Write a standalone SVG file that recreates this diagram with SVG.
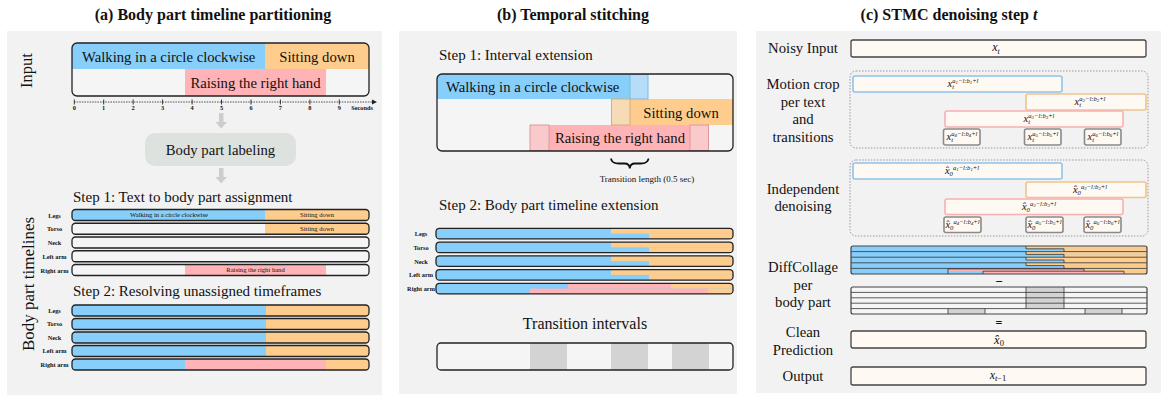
<svg xmlns="http://www.w3.org/2000/svg" width="1171" height="400" viewBox="0 0 1171 400">
<style>
  text { font-family: "Liberation Serif", "Times New Roman", serif; fill: #111; }
  .title { font-size: 16px; font-weight: bold; text-anchor: middle; }
  .lbl { font-size: 14.7px; }
  .lblc { font-size: 14.7px; text-anchor: middle; }
  .step { font-size: 15px; }
  .tiny { font-size: 6.3px; font-weight: bold; text-anchor: middle; }
  .inbar { font-size: 6.6px; text-anchor: middle; }
  .ax { font-size: 6.3px; font-weight: bold; text-anchor: middle; }
  .m { font-size: 10.5px; font-style: italic; text-anchor: middle; }
  .sp { font-size: 6.6px; }
  .ss { font-size: 4.8px; }
  .panel { fill: #f2f2f2; }
  .blue { fill: #87cefa; }
  .orange { fill: #fecd8e; }
  .pink { fill: #ffb3b6; }
  .empty { fill: #f5f5f5; }
  .outline { fill: none; stroke: #222; stroke-width: 1.3; }
  .cream { fill: #fef9f2; }
  .cbox { fill: #fef9f2; stroke: #444; stroke-width: 1.3; }
  .dotted { fill: none; stroke: #9a9a9a; stroke-width: 1; stroke-dasharray: 1.5 1.5; }
  .thin { stroke: #333; stroke-width: 0.8; fill: none; }
  .tgray { fill: #d3d3d3; }
  .arr { fill: #cdcdcd; }
</style>
<defs>
  <clipPath id="cb" clipPathUnits="objectBoundingBox"><rect x="0" y="0" width="1" height="1" rx="0.012" ry="0.28"/></clipPath>
  <clipPath id="cin" clipPathUnits="objectBoundingBox"><rect x="0" y="0" width="1" height="1" rx="0.017" ry="0.094"/></clipPath>
  <clipPath id="cbx" clipPathUnits="objectBoundingBox"><rect x="0" y="0" width="1" height="1" rx="0.017" ry="0.065"/></clipPath>
  <clipPath id="cdc" clipPathUnits="objectBoundingBox"><rect x="0" y="0" width="1" height="1" rx="0.007" ry="0.07"/></clipPath>
</defs>

<!-- ===== Panel backgrounds ===== -->
<rect class="panel" x="7" y="31" width="375" height="364"/>
<rect class="panel" x="399" y="31" width="338" height="363"/>
<rect class="panel" x="756" y="31" width="405" height="362"/>

<!-- ===== Titles ===== -->
<text class="title" x="213" y="20">(a) Body part timeline partitioning</text>
<text class="title" x="573" y="20">(b) Temporal stitching</text>
<text class="title" x="949" y="20">(c) STMC denoising step <tspan font-style="italic">t</tspan></text>

<!-- ===================== PANEL A ===================== -->
<text text-anchor="middle" transform="translate(32,70.5) rotate(-90)" style="font-size:16.5px">Input</text>
<text text-anchor="middle" transform="translate(34,284) rotate(-90)" style="font-size:17px">Body part  timelines</text>

<g id="a-input">
  <g clip-path="url(#cin)">
    <rect class="empty" x="72" y="43" width="297" height="53"/>
    <rect class="blue" x="72" y="43" width="193" height="26"/>
    <rect class="orange" x="265" y="43" width="104" height="26"/>
    <rect class="pink" x="185" y="69" width="141" height="27"/>
  </g>
  <rect class="outline" x="72" y="43" width="297" height="53" rx="5"/>
  <text class="lbl" x="82" y="62">Walking in a circle clockwise</text>
  <text class="lblc" x="317" y="62">Sitting down</text>
  <text class="lblc" x="255.5" y="88">Raising the right hand</text>
</g>

<g id="a-axis">
  <line x1="74" y1="102" x2="372" y2="102" stroke="#333" stroke-width="0.8" stroke-dasharray="1.6 1"/>
  <polygon points="372,99.6 377,102 372,104.4" fill="#222"/>
  <g stroke="#222" stroke-width="0.9">
    <line x1="74.3" y1="99.5" x2="74.3" y2="104.5"/>
    <line x1="103.7" y1="99.5" x2="103.7" y2="104.5"/>
    <line x1="133.2" y1="99.5" x2="133.2" y2="104.5"/>
    <line x1="162.6" y1="99.5" x2="162.6" y2="104.5"/>
    <line x1="192.1" y1="99.5" x2="192.1" y2="104.5"/>
    <line x1="221.5" y1="99.5" x2="221.5" y2="104.5"/>
    <line x1="251" y1="99.5" x2="251" y2="104.5"/>
    <line x1="280.4" y1="99.5" x2="280.4" y2="104.5"/>
    <line x1="309.9" y1="99.5" x2="309.9" y2="104.5"/>
    <line x1="339.3" y1="99.5" x2="339.3" y2="104.5"/>
  </g>
  <text class="ax" x="74.3" y="109.5">0</text>
  <text class="ax" x="103.7" y="109.5">1</text>
  <text class="ax" x="133.2" y="109.5">2</text>
  <text class="ax" x="162.6" y="109.5">3</text>
  <text class="ax" x="192.1" y="109.5">4</text>
  <text class="ax" x="221.5" y="109.5">5</text>
  <text class="ax" x="251" y="109.5">6</text>
  <text class="ax" x="280.4" y="109.5">7</text>
  <text class="ax" x="309.9" y="109.5">8</text>
  <text class="ax" x="339.3" y="109.5">9</text>
  <text class="ax" x="362" y="109.5">Seconds</text>
</g>

<g id="a-connectors">
  <polygon class="arr" points="219,113 223.5,113 223.5,122 227,122 221.2,128.5 215.4,122 219,122"/>
  <polygon class="arr" points="219,168 223.5,168 223.5,177 227,177 221.2,183.5 215.4,177 219,177"/>
</g>

<g id="a-labeling">
  <rect x="145" y="133" width="151" height="33" rx="10" fill="#dde2df"/>
  <text class="lblc" x="220.5" y="155">Body part labeling</text>
</g>

<g id="a-step1">
  <text class="step" x="73" y="202">Step 1: Text to body part assignment</text>
  <text class="tiny" x="54.5" y="217.5">Legs</text>
  <text class="tiny" x="54.5" y="231.2">Torso</text>
  <text class="tiny" x="54.5" y="245">Neck</text>
  <text class="tiny" x="54.5" y="258.7">Left arm</text>
  <text class="tiny" x="54.5" y="272.5">Right arm</text>
  <g clip-path="url(#cb)">
    <rect class="empty" x="72" y="209.5" width="297" height="11"/>
    <rect class="blue" x="72" y="209.5" width="193" height="11"/>
    <rect class="orange" x="265" y="209.5" width="104" height="11"/>
  </g>
  <rect class="outline" x="72" y="209.5" width="297" height="11" rx="3.5"/>
  <text class="inbar" x="169" y="217.3">Walking in a circle clockwise</text>
  <text class="inbar" x="317" y="217.3">Sitting down</text>
  <g clip-path="url(#cb)">
    <rect class="empty" x="72" y="223.25" width="297" height="11"/>
    <rect class="orange" x="265" y="223.25" width="104" height="11"/>
  </g>
  <rect class="outline" x="72" y="223.25" width="297" height="11" rx="3.5"/>
  <text class="inbar" x="317" y="231">Sitting down</text>
  <rect class="empty" x="72" y="237" width="297" height="11" rx="3.5"/>
  <rect class="outline" x="72" y="237" width="297" height="11" rx="3.5"/>
  <rect class="empty" x="72" y="250.75" width="297" height="11" rx="3.5"/>
  <rect class="outline" x="72" y="250.75" width="297" height="11" rx="3.5"/>
  <g clip-path="url(#cb)">
    <rect class="empty" x="72" y="264.5" width="297" height="11"/>
    <rect class="pink" x="185" y="264.5" width="141" height="11"/>
  </g>
  <rect class="outline" x="72" y="264.5" width="297" height="11" rx="3.5"/>
  <text class="inbar" x="255.5" y="272.3">Raising the right hand</text>
</g>

<g id="a-step2">
  <text class="step" x="73" y="296">Step 2: Resolving unassigned timeframes</text>
  <text class="tiny" x="54.5" y="312.8">Legs</text>
  <text class="tiny" x="54.5" y="326.3">Torso</text>
  <text class="tiny" x="54.5" y="339.8">Neck</text>
  <text class="tiny" x="54.5" y="353.3">Left arm</text>
  <text class="tiny" x="54.5" y="366.8">Right arm</text>
  <g clip-path="url(#cb)"><rect class="blue" x="72" y="305" width="297" height="11"/><rect class="orange" x="266" y="305" width="103" height="11"/></g>
  <rect class="outline" x="72" y="305" width="297" height="11" rx="3.5"/>
  <g clip-path="url(#cb)"><rect class="blue" x="72" y="318.5" width="297" height="11"/><rect class="orange" x="266" y="318.5" width="103" height="11"/></g>
  <rect class="outline" x="72" y="318.5" width="297" height="11" rx="3.5"/>
  <g clip-path="url(#cb)"><rect class="blue" x="72" y="332" width="297" height="11"/><rect class="orange" x="266" y="332" width="103" height="11"/></g>
  <rect class="outline" x="72" y="332" width="297" height="11" rx="3.5"/>
  <g clip-path="url(#cb)"><rect class="blue" x="72" y="345.5" width="297" height="11"/><rect class="orange" x="266" y="345.5" width="103" height="11"/></g>
  <rect class="outline" x="72" y="345.5" width="297" height="11" rx="3.5"/>
  <g clip-path="url(#cb)"><rect class="blue" x="72" y="359" width="297" height="11"/><rect class="pink" x="185" y="359" width="141" height="11"/><rect class="orange" x="326" y="359" width="43" height="11"/></g>
  <rect class="outline" x="72" y="359" width="297" height="11" rx="3.5"/>
</g>

<!-- ===================== PANEL B ===================== -->
<g id="b-step1">
  <text class="step" x="439" y="60">Step 1: Interval extension</text>
  <g clip-path="url(#cbx)">
    <rect class="empty" x="437" y="74" width="296" height="77"/>
    <rect class="blue" x="437" y="74" width="193" height="25"/>
    <rect class="orange" x="630" y="99" width="103" height="26"/>
    <rect class="pink" x="549" y="125" width="141" height="26"/>
  </g>
  <rect x="630" y="74.5" width="18" height="24.5" fill="#b5ddf7" stroke="#7fb9e2" stroke-width="1"/>
  <rect x="611.5" y="99" width="18.5" height="26" fill="#f7dab6" stroke="#d5ad79" stroke-width="1"/>
  <rect x="530" y="125" width="19" height="25.5" fill="#f9c9cc" stroke="#dc9a9d" stroke-width="1"/>
  <rect x="690" y="125" width="18.5" height="25.5" fill="#f9c9cc" stroke="#dc9a9d" stroke-width="1"/>
  <rect class="outline" x="437" y="74" width="296" height="77" rx="5"/>
  <text class="lbl" x="446" y="92">Walking in a circle clockwise</text>
  <text class="lblc" x="681" y="117.5">Sitting down</text>
  <text class="lblc" x="620" y="143">Raising the right hand</text>
</g>

<g id="b-brace">
  <path d="M611,158.5 Q611.5,163.5 619,163.5 L624.5,163.5 Q629.5,163.5 629.8,168.5 Q630.1,163.5 635,163.5 L640.5,163.5 Q648,163.5 648.5,158.5" fill="none" stroke="#111" stroke-width="1.8"/>
  <text x="647" y="182" text-anchor="middle" style="font-size:9px">Transition length (0.5 sec)</text>
</g>

<g id="b-step2">
  <text class="step" x="439" y="210">Step 2: Body part timeline extension</text>
  <text class="tiny" x="421" y="236">Legs</text>
  <text class="tiny" x="421" y="249.7">Torso</text>
  <text class="tiny" x="421" y="263.5">Neck</text>
  <text class="tiny" x="421" y="277.2">Left arm</text>
  <text class="tiny" x="421" y="291">Right arm</text>
  <g clip-path="url(#cb)"><rect class="blue" x="436" y="228.3" width="297" height="10.6"/><rect class="orange" x="611" y="228.3" width="122" height="5.3"/><rect class="orange" x="649" y="233.6" width="84" height="5.3"/></g>
  <rect class="outline" x="436" y="228.3" width="297" height="10.6" rx="3.5"/>
  <g clip-path="url(#cb)"><rect class="blue" x="436" y="242.05" width="297" height="10.6"/><rect class="orange" x="611" y="242.05" width="122" height="5.3"/><rect class="orange" x="649" y="247.35" width="84" height="5.3"/></g>
  <rect class="outline" x="436" y="242.05" width="297" height="10.6" rx="3.5"/>
  <g clip-path="url(#cb)"><rect class="blue" x="436" y="255.8" width="297" height="10.6"/><rect class="orange" x="611" y="255.8" width="122" height="5.3"/><rect class="orange" x="649" y="261.1" width="84" height="5.3"/></g>
  <rect class="outline" x="436" y="255.8" width="297" height="10.6" rx="3.5"/>
  <g clip-path="url(#cb)"><rect class="blue" x="436" y="269.55" width="297" height="10.6"/><rect class="orange" x="611" y="269.55" width="122" height="5.3"/><rect class="orange" x="649" y="274.85" width="84" height="5.3"/></g>
  <rect class="outline" x="436" y="269.55" width="297" height="10.6" rx="3.5"/>
  <g clip-path="url(#cb)"><rect class="blue" x="436" y="283.3" width="297" height="10.6"/><rect class="pink" x="568" y="283.3" width="103" height="5.3"/><rect class="orange" x="671" y="283.3" width="62" height="5.3"/><rect class="pink" x="530" y="288.6" width="178" height="5.3"/><rect class="orange" x="708" y="288.6" width="25" height="5.3"/></g>
  <rect class="outline" x="436" y="283.3" width="297" height="10.6" rx="3.5"/>
</g>

<g id="b-transitions">
  <text x="585" y="329" text-anchor="middle" style="font-size:16px">Transition intervals</text>
  <g clip-path="url(#cb)">
    <rect class="empty" x="437" y="343" width="296" height="27"/>
    <rect class="tgray" x="530" y="343" width="37" height="27"/>
    <rect class="tgray" x="611" y="343" width="37" height="27"/>
    <rect class="tgray" x="672" y="343" width="37" height="27"/>
  </g>
  <rect class="outline" x="437" y="343" width="296" height="27" rx="4"/>
</g>

<!-- ===================== PANEL C ===================== -->
<g id="c-labels">
  <text class="lblc" x="803" y="53">Noisy Input</text>
  <text class="lblc" x="803" y="89">Motion crop</text>
  <text class="lblc" x="803" y="106.5">per text</text>
  <text class="lblc" x="803" y="124">and</text>
  <text class="lblc" x="803" y="141.5">transitions</text>
  <text class="lblc" x="803" y="193.5">Independent</text>
  <text class="lblc" x="803" y="211">denoising</text>
  <text class="lblc" x="803" y="272">DiffCollage</text>
  <text class="lblc" x="803" y="289.5">per</text>
  <text class="lblc" x="803" y="307">body part</text>
  <text class="lblc" x="803" y="337">Clean</text>
  <text class="lblc" x="803" y="354.5">Prediction</text>
  <text class="lblc" x="803" y="381">Output</text>
</g>

<g id="c-noisy">
  <rect class="cbox" x="851" y="40" width="295" height="17" rx="2"/>
  <text class="m" x="996" y="51" style="font-size:12px">x<tspan style="font-size:8px" dy="2.5">t</tspan></text>
</g>

<g id="c-crops">
  <rect class="dotted" x="850" y="71" width="298" height="77" rx="6"/>
  <rect x="853" y="76" width="209" height="16" rx="2" class="cream" stroke="#8fc3ea" stroke-width="1.6"/>
  <rect x="1026" y="94" width="120" height="16" rx="2" class="cream" stroke="#f1c38a" stroke-width="1.6"/>
  <rect x="945" y="111" width="178" height="16" rx="2" class="cream" stroke="#f7b0b3" stroke-width="1.6"/>
  <rect x="943.5" y="129" width="36.5" height="16" rx="2" class="cream" stroke="#8a8a8a" stroke-width="1.6"/>
  <rect x="1024.5" y="129" width="36.5" height="16" rx="2" class="cream" stroke="#8a8a8a" stroke-width="1.6"/>
  <rect x="1084.5" y="129" width="36.5" height="16" rx="2" class="cream" stroke="#8a8a8a" stroke-width="1.6"/>
  <text class="m" x="963" y="86.5">x<tspan class="sp" dy="2.5">t</tspan><tspan class="sp" dx="-1.8" dy="-6.5">a</tspan><tspan class="ss" dy="1">1</tspan><tspan class="sp" dy="-1">−l:b</tspan><tspan class="ss" dy="1">1</tspan><tspan class="sp" dy="-1">+l</tspan></text>
  <text class="m" x="1090" y="104.5">x<tspan class="sp" dy="2.5">t</tspan><tspan class="sp" dx="-1.8" dy="-6.5">a</tspan><tspan class="ss" dy="1">2</tspan><tspan class="sp" dy="-1">−l:b</tspan><tspan class="ss" dy="1">2</tspan><tspan class="sp" dy="-1">+l</tspan></text>
  <text class="m" x="1039" y="121.5">x<tspan class="sp" dy="2.5">t</tspan><tspan class="sp" dx="-1.8" dy="-6.5">a</tspan><tspan class="ss" dy="1">3</tspan><tspan class="sp" dy="-1">−l:b</tspan><tspan class="ss" dy="1">3</tspan><tspan class="sp" dy="-1">+l</tspan></text>
  <text class="m" x="962" y="139.5">x<tspan class="sp" dy="2.5">t</tspan><tspan class="sp" dx="-1.8" dy="-6.5">a</tspan><tspan class="ss" dy="1">4</tspan><tspan class="sp" dy="-1">−l:b</tspan><tspan class="ss" dy="1">4</tspan><tspan class="sp" dy="-1">+l</tspan></text>
  <text class="m" x="1043" y="139.5">x<tspan class="sp" dy="2.5">t</tspan><tspan class="sp" dx="-1.8" dy="-6.5">a</tspan><tspan class="ss" dy="1">5</tspan><tspan class="sp" dy="-1">−l:b</tspan><tspan class="ss" dy="1">5</tspan><tspan class="sp" dy="-1">+l</tspan></text>
  <text class="m" x="1103" y="139.5">x<tspan class="sp" dy="2.5">t</tspan><tspan class="sp" dx="-1.8" dy="-6.5">a</tspan><tspan class="ss" dy="1">6</tspan><tspan class="sp" dy="-1">−l:b</tspan><tspan class="ss" dy="1">6</tspan><tspan class="sp" dy="-1">+l</tspan></text>
</g>

<g id="c-denoise">
  <rect class="dotted" x="850" y="160" width="298" height="76" rx="6"/>
  <rect x="853" y="163" width="209" height="16" rx="2" class="cream" stroke="#8fc3ea" stroke-width="1.6"/>
  <rect x="1026" y="182" width="120" height="15.5" rx="2" class="cream" stroke="#f1c38a" stroke-width="1.6"/>
  <rect x="945" y="199" width="178" height="15.5" rx="2" class="cream" stroke="#f7b0b3" stroke-width="1.6"/>
  <rect x="944" y="217" width="37" height="15.5" rx="2" class="cream" stroke="#8a8a8a" stroke-width="1.6"/>
  <rect x="1026" y="217" width="37" height="15.5" rx="2" class="cream" stroke="#8a8a8a" stroke-width="1.6"/>
  <rect x="1084" y="217" width="37" height="15.5" rx="2" class="cream" stroke="#8a8a8a" stroke-width="1.6"/>
  <text class="m" x="962" y="173.5">x̂<tspan class="sp" dy="2.5">0</tspan><tspan class="sp" dy="-6.5">a</tspan><tspan class="ss" dy="1">1</tspan><tspan class="sp" dy="-1">−l:b</tspan><tspan class="ss" dy="1">1</tspan><tspan class="sp" dy="-1">+l</tspan></text>
  <text class="m" x="1090" y="192.5">x̂<tspan class="sp" dy="2.5">0</tspan><tspan class="sp" dy="-6.5">a</tspan><tspan class="ss" dy="1">2</tspan><tspan class="sp" dy="-1">−l:b</tspan><tspan class="ss" dy="1">2</tspan><tspan class="sp" dy="-1">+l</tspan></text>
  <text class="m" x="1039" y="209.5">x̂<tspan class="sp" dy="2.5">0</tspan><tspan class="sp" dy="-6.5">a</tspan><tspan class="ss" dy="1">3</tspan><tspan class="sp" dy="-1">−l:b</tspan><tspan class="ss" dy="1">3</tspan><tspan class="sp" dy="-1">+l</tspan></text>
  <text class="m" x="962.5" y="227.5">x̂<tspan class="sp" dy="2.5">0</tspan><tspan class="sp" dy="-6.5">a</tspan><tspan class="ss" dy="1">4</tspan><tspan class="sp" dy="-1">−l:b</tspan><tspan class="ss" dy="1">4</tspan><tspan class="sp" dy="-1">+l</tspan></text>
  <text class="m" x="1044.5" y="227.5">x̂<tspan class="sp" dy="2.5">0</tspan><tspan class="sp" dy="-6.5">a</tspan><tspan class="ss" dy="1">5</tspan><tspan class="sp" dy="-1">−l:b</tspan><tspan class="ss" dy="1">5</tspan><tspan class="sp" dy="-1">+l</tspan></text>
  <text class="m" x="1102.5" y="227.5">x̂<tspan class="sp" dy="2.5">0</tspan><tspan class="sp" dy="-6.5">a</tspan><tspan class="ss" dy="1">6</tspan><tspan class="sp" dy="-1">−l:b</tspan><tspan class="ss" dy="1">6</tspan><tspan class="sp" dy="-1">+l</tspan></text>
</g>

<g id="c-collage">
  <g clip-path="url(#cdc)">
    <rect class="blue" x="851" y="246" width="296" height="28"/>
    <rect class="orange" x="1026" y="246" width="121" height="2.8"/>
    <rect class="orange" x="1064" y="248.8" width="83" height="2.8"/>
    <rect class="orange" x="1026" y="251.6" width="121" height="2.8"/>
    <rect class="orange" x="1064" y="254.4" width="83" height="2.8"/>
    <rect class="orange" x="1026" y="257.2" width="121" height="2.8"/>
    <rect class="orange" x="1064" y="260" width="83" height="2.8"/>
    <rect class="orange" x="1026" y="262.8" width="121" height="2.8"/>
    <rect class="orange" x="1064" y="265.6" width="83" height="2.8"/>
    <rect class="pink" x="948" y="268.4" width="136" height="2.8"/>
    <rect class="orange" x="1084" y="268.4" width="63" height="2.8"/>
    <rect class="pink" x="983" y="271.2" width="141" height="2.8"/>
    <rect class="orange" x="1124" y="271.2" width="23" height="2.8"/>
  </g>
  <path class="thin" d="M851,251.6 H1147 M851,257.2 H1147 M851,262.8 H1147 M851,268.4 H1147"/>
  <path class="thin" d="M1026,246 V248.8 H1064 V251.6 M1026,251.6 V254.4 H1064 V257.2 M1026,257.2 V260 H1064 V262.8 M1026,262.8 V265.6 H1064 V268.4"/>
  <path class="thin" d="M948,274 V268.9 H1084 V271.2 M983,274 V271.2 H1124 V274"/>
  <rect x="851" y="246" width="296" height="28" rx="2" fill="none" stroke="#444" stroke-width="1.2"/>
  <text x="999" y="286" text-anchor="middle" font-weight="bold" style="font-size:13px">−</text>
  <rect class="empty" x="851" y="287" width="296" height="27" rx="2"/>
  <rect class="tgray" x="1026" y="287" width="38" height="21.6"/>
  <rect class="tgray" x="948" y="308.6" width="37" height="5.4"/>
  <rect class="tgray" x="1085" y="308.6" width="37" height="5.4"/>
  <path class="thin" d="M851,292.4 H1147 M851,297.8 H1147 M851,303.2 H1147 M851,308.6 H1147 M1026,287 V308.6 M1064,287 V308.6 M948,308.6 V314 M985,308.6 V314 M1085,308.6 V314 M1122,308.6 V314"/>
  <rect x="851" y="287" width="296" height="27" rx="2" fill="none" stroke="#444" stroke-width="1.2"/>
  <text x="999" y="327" text-anchor="middle" font-weight="bold" style="font-size:12px">=</text>
</g>

<g id="c-clean">
  <rect class="cbox" x="851" y="331" width="295" height="17" rx="2"/>
  <text class="m" x="999" y="343.5" style="font-size:12.5px">x̂<tspan font-style="normal" style="font-size:8.5px" dy="2.5">0</tspan></text>
</g>

<g id="c-output">
  <rect class="cbox" x="851" y="367" width="295" height="18" rx="2"/>
  <text class="m" x="998" y="378.5" style="font-size:12px">x<tspan style="font-size:8.5px" dy="2.5">t</tspan><tspan font-style="normal" style="font-size:8.5px">−1</tspan></text>
</g>
</svg>
